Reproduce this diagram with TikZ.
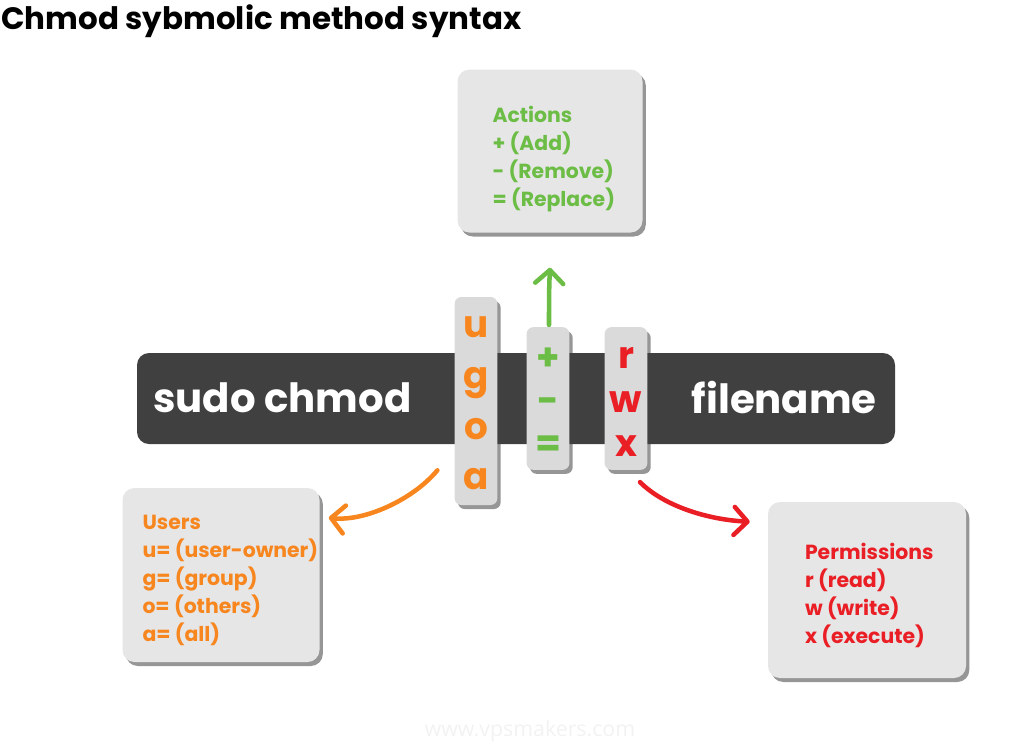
\documentclass[tikz,border=0pt]{standalone}
\usepackage{fontspec}
\setmainfont{Poppins}
\newfontfamily\wmfont{Open Sans}
\usetikzlibrary{arrows.meta}
\usetikzlibrary{shadows}

\definecolor{actgreen}{RGB}{108,189,69}
\definecolor{usrorange}{RGB}{247,134,31}
\definecolor{permred}{RGB}{234,30,37}
\definecolor{boxgray}{RGB}{230,230,230}
\definecolor{stripgray}{RGB}{218,218,218}
\definecolor{bardark}{RGB}{64,64,64}

\tikzset{
  softshadow/.style={drop shadow={shadow xshift=2.5pt, shadow yshift=-3pt, fill=black!75, opacity=0.55}},
  infobox/.style={fill=boxgray, rounded corners=9pt, softshadow},
  infotext/.style={anchor=north west, inner sep=0pt, align=left,
    font=\bfseries\fontsize{15.3}{21}\selectfont},
  letterstrip/.style={fill=stripgray, rounded corners=5pt, minimum width=32pt, softshadow},
  letters/.style={anchor=north, inner sep=0pt, align=center},
  cmdtext/.style={text=white, font=\bfseries\fontsize{30.2}{32}\selectfont, inner sep=0pt},
  bendarrow/.style={line width=3.4pt, line cap=round, line join=round,
    -{Straight Barb[length=10pt, width=21pt, round]}}
}

\begin{document}
\begin{tikzpicture}[x=0.75pt,y=0.75pt,yscale=-1,xscale=1]
\useasboundingbox (0,0) rectangle (1024,743);

% Title
\node[anchor=west, inner sep=0pt, font=\bfseries\fontsize{23.2}{24}\selectfont] (title) at (1,21) {Chmod sybmolic method syntax};

% Command bar
\node[fill=bardark, rounded corners=9pt, minimum width=568.5pt, minimum height=68.25pt] (bar) at (516,398.5) {};
\node[cmdtext, anchor=west] (cmd) at (153,398) {sudo chmod};
\node[cmdtext, anchor=east] (file) at (877,398) {filename};

% Letter strips
\node[letterstrip, minimum height=156pt] (ugoa) at (476,401) {};
\node[letterstrip, minimum height=107pt] (pm) at (548,398.5) {};
\node[letterstrip, minimum height=107pt] (rwx) at (626,398.5) {};
\node[letters, text=usrorange, font=\bfseries\fontsize{28}{38}\selectfont] (ugoatxt) at ([shift={(0,20)}]ugoa.north) {u\\g\\o\\a};
\node[letters, text=actgreen, font=\bfseries\fontsize{28}{32}\selectfont] (pmtxt) at ([shift={(0,21)}]pm.north) {+\\-\\=};
\node[letters, text=permred, font=\bfseries\fontsize{28}{33}\selectfont] (rwxtxt) at ([shift={(0,20)}]rwx.north) {r\\w\\x};

% Info boxes
\node[infobox, minimum width=138.75pt, minimum height=122.25pt] (actions) at (550,151) {};
\node[infobox, minimum width=147.75pt, minimum height=130.5pt] (users) at (221,575) {};
\node[infobox, minimum width=148.5pt, minimum height=132pt] (perms) at (867,590) {};
\node[infotext, text=actgreen] (actionstxt) at ([shift={(35,37)}]actions.north west)
  {Actions\\+ (Add)\\- (Remove)\\= (Replace)};
\node[infotext, text=usrorange] (userstxt) at ([shift={(20,27)}]users.north west)
  {Users\\u= (user-owner)\\g= (group)\\o= (others)\\a= (all)};
\node[infotext, text=permred] (permstxt) at ([shift={(37,41)}]perms.north west)
  {Permissions\\r (read)\\w (write)\\x (execute)};

% Arrows
\draw[bendarrow, actgreen] ([shift={(1,-2)}]pm.north) .. controls +(0,-20) and +(-1,20) .. ([shift={(0,35)}]actions.south);
\draw[bendarrow, usrorange] ([shift={(-17,-35)}]ugoa.south west) .. controls +(-25,30) and +(35,4) .. ([shift={(9,30)}]users.north east);
\draw[bendarrow, permred] ([shift={(14,12)}]rwx.south) .. controls +(25,25) and +(-40,-2) .. ([shift={(-18,20)}]perms.north west);

% Watermark
\node[text=black!5, font=\wmfont\fontsize{16}{16}\selectfont] (wm) at (530,731) {www.vpsmakers.com};

\end{tikzpicture}
\end{document}
